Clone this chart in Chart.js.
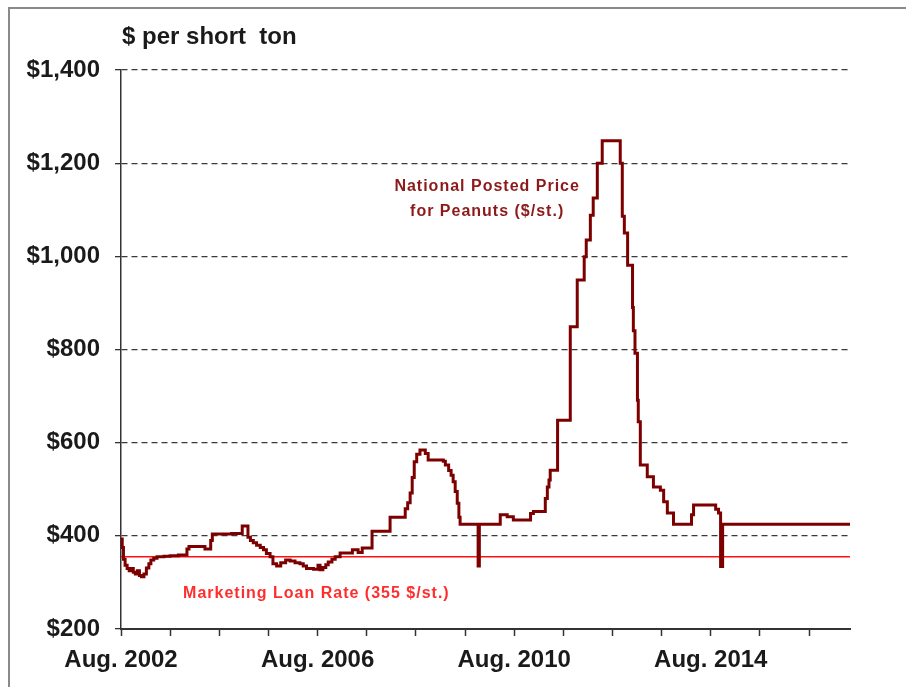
<!DOCTYPE html>
<html>
<head>
<meta charset="utf-8">
<script src="https://cdn.jsdelivr.net/npm/chart.js@4.4.0/dist/chart.umd.min.js"></script>
<style>
  html, body { margin: 0; padding: 0; background: #fff; overflow: hidden; }
  #wrap { position: relative; width: 906px; height: 687px; }
  #frame { position: absolute; left: 8px; top: 7px; width: 1000px; height: 1000px;
           border-left: 2px solid #8a8a8a; border-top: 2px solid #8a8a8a; }
  canvas { position: absolute; left: 0; top: 0; }
</style>
</head>
<body>
<div id="wrap"><div id="frame"></div><canvas id="chart" width="906" height="687"></canvas></div>
<script>
// Peanut prices, $ per short ton. x = months counted from Aug. 2002
const postedMonths = [
    0, 0.3, 0.6, 1.0, 1.5, 2.0, 2.5, 3.0, 3.5, 4.0,
    4.5, 5.0, 5.6, 6.2, 6.8, 7.3, 8.0, 8.8, 10.5, 12,
    14, 16.1, 16.6, 19.5, 20.5, 21.9, 22.3, 25, 27, 29.6,
    31, 31.6, 32.3, 33.1, 34.0, 34.8, 35.5, 36.4, 37.1, 38,
    39, 40.2, 41.3, 42.5, 43.7, 44.5, 45.3, 47, 48.1, 48.6,
    49.3, 50, 50.6, 51.5, 52.3, 53.5, 56.5, 57.9, 58.9, 61.3,
    65.7, 69.4, 70, 70.6, 71.1, 71.6, 72.2, 73.0, 74.3, 75.0,
    78.7, 79.2, 80.0, 80.6, 81.1, 81.6, 82.1, 82.5, 82.8, 87.2,
    87.5, 92.6, 94.3, 95.8, 100.0, 100.7, 103.6, 104.1, 104.5, 104.8,
    106.6, 109.7, 111.4, 113.1, 113.6, 114.6, 115.3, 116.3, 117.5, 121.9,
    122.4, 122.9, 123.7, 124.9, 125.1, 125.5, 126.1, 126.3, 126.8, 128.5,
    130.0, 131.7, 132.5, 133.4, 134.9, 139.3, 139.8, 145.2, 145.9, 146.4,
    146.9, 178
];
const postedPrices = [
    393, 375, 350, 337, 330, 325, 330, 322, 318, 325,
    315, 312, 318, 331, 340, 348, 352, 355, 356, 357,
    359, 372, 377, 377, 372, 390, 404, 404, 405, 421,
    397, 390, 385, 380, 375, 370, 362, 355, 340, 335,
    342, 348, 346, 342, 340, 335, 330, 328, 337, 327,
    332, 338, 344, 350, 355, 363, 370, 364, 374, 410,
    440, 458, 471, 492, 525, 559, 575, 584, 577, 563,
    560, 552, 540, 530, 516, 495, 470, 440, 425, 335,
    425, 445, 441, 434, 448, 452, 480, 505, 520, 541,
    648, 849, 949, 999, 1035, 1088, 1125, 1200, 1248, 1200,
    1086, 1050, 981, 890, 840, 792, 691, 645, 552, 527,
    505, 498, 473, 449, 425, 445, 466, 457, 449, 334,
    425, 425
];
const loanRate = 355;
const xMax = 178;
const yearTicks = [0, 12, 24, 36, 48, 60, 72, 84, 96, 108, 120, 132, 144, 156, 168];
const startYear = 2002;

const FONT = '"Liberation Sans", Arial, sans-serif';

// text notes placed in data coordinates
const notesPlugin = {
    id: 'notes',
    afterDraw(chart) {
        const c = chart.ctx;
        const x = chart.scales.x;
        const y = chart.scales.y;
        c.save();
        c.textBaseline = 'middle';

        c.fillStyle = '#1a1a1a';
        c.textAlign = 'left';
        c.font = 'bold 24px ' + FONT;
        c.fillText('$ per short  ton', chart.chartArea.left + 1, 37);

        c.textAlign = 'center';
        c.letterSpacing = '1px';
        c.fillStyle = '#8c1a1a';
        c.font = 'bold 16px ' + FONT;
        c.fillText('National Posted Price', x.getPixelForValue(89.4), y.getPixelForValue(1150));
        c.fillText('for Peanuts ($/st.)', x.getPixelForValue(89.4), y.getPixelForValue(1097));

        c.fillStyle = '#ff2e2e';
        c.fillText('Marketing Loan Rate (355 $/st.)', x.getPixelForValue(47.7), y.getPixelForValue(277));
        c.restore();
    }
};

const ctx = document.getElementById('chart').getContext('2d');
new Chart(ctx, {
    type: 'line',
    data: {
        datasets: [
            {
                label: 'National Posted Price for Peanuts ($/st.)',
                data: postedMonths.map((m, i) => ({ x: m, y: postedPrices[i] })),
                borderColor: '#7c0000',
                borderWidth: 3,
                pointRadius: 0,
                stepped: 'before'
            },
            {
                label: 'Marketing Loan Rate (355 $/st.)',
                data: [{ x: 0, y: loanRate }, { x: xMax, y: loanRate }],
                borderColor: '#ff1010',
                borderWidth: 1.5,
                pointRadius: 0
            }
        ]
    },
    options: {
        responsive: false,
        animation: false,
        layout: { padding: { left: 0, right: 56, top: 70, bottom: 0 } },
        plugins: {
            legend: { display: false },
            tooltip: { enabled: false }
        },
        scales: {
            x: {
                type: 'linear',
                min: 0,
                max: xMax,
                afterBuildTicks: scale => { scale.ticks = yearTicks.map(v => ({ value: v })); },
                afterFit: scale => { scale.height = 58; },
                ticks: {
                    autoSkip: false,
                    maxRotation: 0,
                    padding: 10,
                    color: '#1a1a1a',
                    font: { family: FONT, size: 24, weight: 'bold' },
                    callback: v => (v % 48 === 0 ? 'Aug. ' + (startYear + v / 12) : '')
                },
                grid: {
                    drawOnChartArea: false,
                    tickLength: 7,
                    tickColor: '#333',
                    tickWidth: 1.5
                },
                border: { color: '#333', width: 2 }
            },
            y: {
                min: 200,
                max: 1400,
                afterFit: scale => { scale.width = 121; },
                ticks: {
                    stepSize: 200,
                    padding: 15,
                    color: '#1a1a1a',
                    font: { family: FONT, size: 24, weight: 'bold' },
                    callback: v => '$' + v.toLocaleString('en-US')
                },
                grid: {
                    color: '#3a3a3a',
                    lineWidth: 1.3,
                    tickLength: 6,
                    tickColor: '#333',
                    tickWidth: 1.3,
                    tickBorderDash: []
                },
                border: { color: '#333', width: 1.5, dash: [6, 4] }
            }
        }
    },
    plugins: [notesPlugin]
});
</script>
</body>
</html>
